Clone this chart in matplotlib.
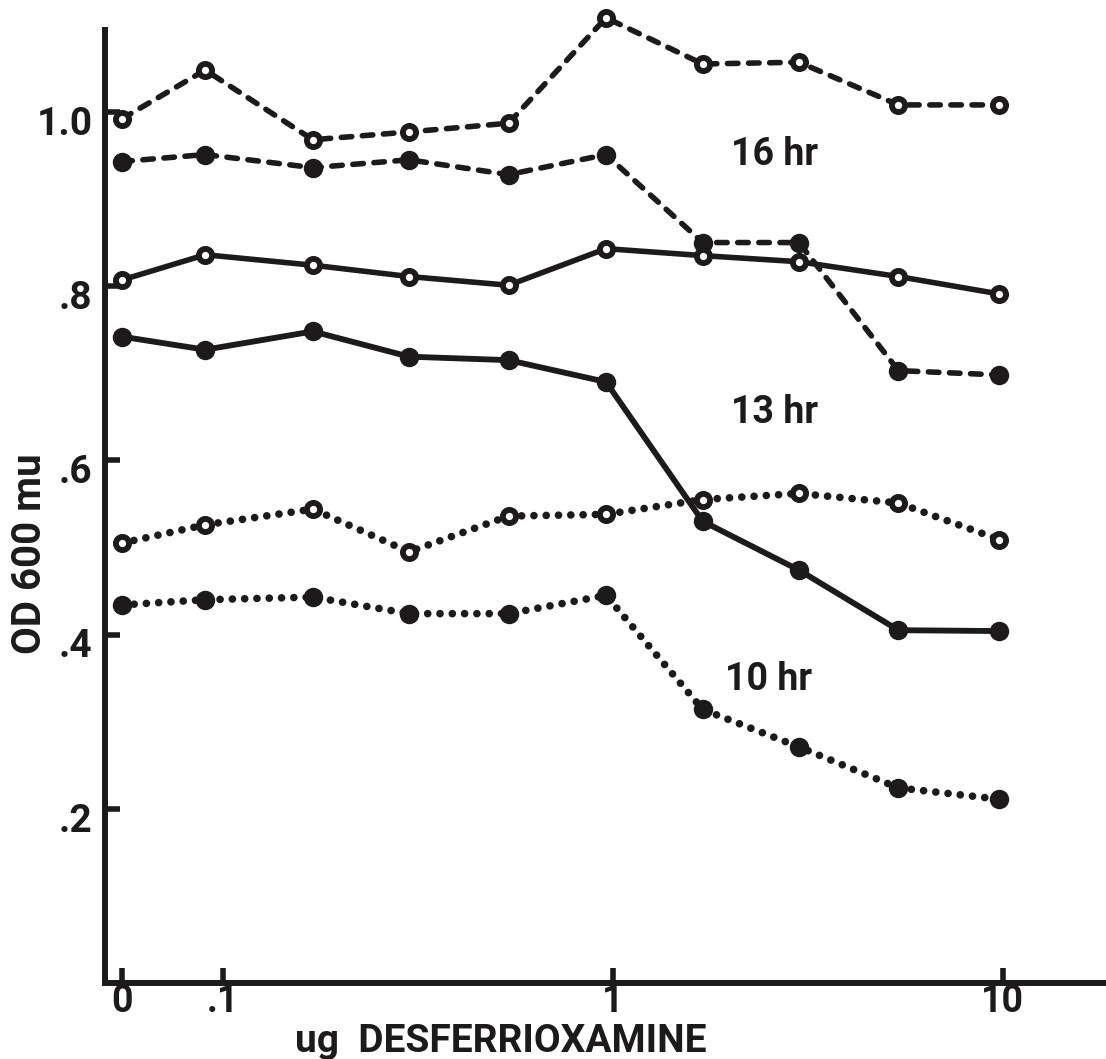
import matplotlib.pyplot as plt
from matplotlib.transforms import ScaledTranslation

plt.rcParams['font.family'] = ['Roboto', 'DejaVu Sans']
plt.rcParams['font.weight'] = 'bold'

ink = '#1c1a1a'

# ug desferrioxamine per tube (log spaced); the no-drug control gets its own spot
doses = [0.09, 0.17, 0.3, 0.54, 0.96, 1.7, 3.0, 5.4, 9.8]
zero_x = 0.055
x = [zero_x] + doses

# OD 600 readings, open = o, filled = *
od16_open = [0.992, 1.048, 0.968, 0.977, 0.987, 1.108, 1.055, 1.057, 1.008, 1.008]
od16_fill = [0.943, 0.951, 0.936, 0.945, 0.928, 0.951, 0.850, 0.850, 0.703, 0.698]
od13_open = [0.807, 0.836, 0.824, 0.811, 0.801, 0.843, 0.835, 0.828, 0.811, 0.791]
od13_fill = [0.742, 0.727, 0.748, 0.719, 0.715, 0.690, 0.530, 0.474, 0.405, 0.404]
od10_open = [0.505, 0.526, 0.544, 0.495, 0.536, 0.538, 0.555, 0.562, 0.551, 0.509]
od10_fill = [0.434, 0.440, 0.443, 0.424, 0.424, 0.445, 0.314, 0.271, 0.224, 0.211]

xticks = [zero_x, 0.1, 1, 10]
xticklabels = ['0', '.1', '1', '10']
yticks = [0.2, 0.4, 0.6, 0.8, 1.0]
yticklabels = ['.2', '.4', '.6', '.8', '1.0']

dashed = (0, (1.9, 1.9))
dotted = (0, (0.01, 1.6))

fig = plt.figure(figsize=(11.06, 10.59), dpi=100)
ax = fig.add_axes([105/1106, 76/1059, 1001/1106, 953/1059])

def curve(y, ls, lw, filled):
    if filled:
        mk = dict(marker='o', ms=14, mfc=ink, mec=ink, mew=0)
    else:
        mk = dict(marker='o', ms=9.5, mfc='white', mec=ink, mew=4.2)
    ax.plot(x, y, ls=ls, lw=lw, color=ink, dash_capstyle='round',
            solid_capstyle='round', clip_on=False, zorder=3, **mk)

curve(od16_open, dashed, 4, False)
curve(od16_fill, dashed, 4, True)
curve(od13_open, '-', 4, False)
curve(od13_fill, '-', 4.2, True)
curve(od10_open, dotted, 5.5, False)
curve(od10_fill, dotted, 5.5, True)

ax.text(2.6, 0.951, '16 hr', fontsize=27, ha='center', va='center', color=ink)
ax.text(2.6, 0.655, '13 hr', fontsize=27, ha='center', va='center', color=ink)
ax.text(2.5, 0.348, '10 hr', fontsize=27, ha='center', va='center', color=ink)

ax.set_xscale('log')
ax.set_xlim(0.0498, 18.4)
ax.set_ylim(0, 1.094)

ax.set_xticks(xticks)
ax.set_xticklabels(xticklabels)
ax.xaxis.set_minor_locator(plt.NullLocator())
ax.set_yticks(yticks)
ax.set_yticklabels(yticklabels)
ax.tick_params(direction='in', length=11, width=4, color=ink,
               labelsize=28, labelcolor=ink)
ax.tick_params(axis='x', pad=0, labelsize=27)
ax.tick_params(axis='y', pad=9)
for lab in ax.get_yticklabels():
    lab.set_transform(lab.get_transform() + ScaledTranslation(0, -6/72, fig.dpi_scale_trans))

for side in ['top', 'right']:
    ax.spines[side].set_visible(False)
for side in ['left', 'bottom']:
    ax.spines[side].set_linewidth(4.3)
    ax.spines[side].set_color(ink)

ax.set_xlabel('ug  DESFERRIOXAMINE', fontsize=28, fontweight='bold', color=ink)
ax.xaxis.set_label_coords(0.395, -0.042)
ax.set_ylabel('OD 600 mu', fontsize=29, fontweight='bold', color=ink, va='center')
ax.yaxis.set_label_coords(-0.075, 0.451)

fig.savefig('out.png', dpi=100, facecolor='white')
